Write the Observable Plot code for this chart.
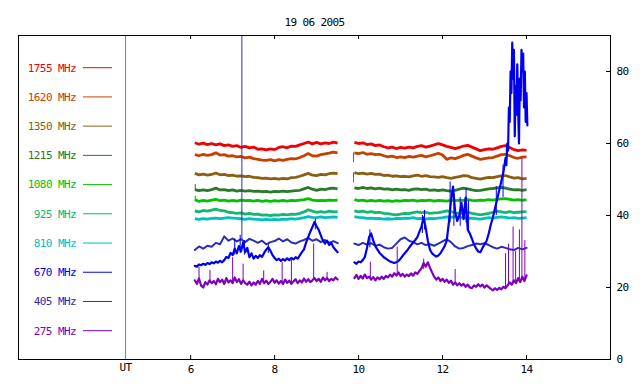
<!DOCTYPE html>
<html><head><meta charset="utf-8">
<script src="https://cdn.jsdelivr.net/npm/d3@7"></script>
<script src="https://cdn.jsdelivr.net/npm/@observablehq/plot@0.6"></script>
<style>body{margin:0;background:#fff}</style>
</head><body><div id="chart"></div>
<script>
const title = "19 06 2005";
const freqs = [1755, 1620, 1350, 1215, 1080, 925, 810, 670, 405, 275];
const colors = ["#f00000", "#c84000", "#8a6010", "#2a7a2a", "#00c400", "#10b870", "#00c0c0", "#0000f0", "#2c2cb8", "#8000c0"];
const xTicks = [6, 8, 10, 12, 14];
const yTicks = [0, 20, 40, 60, 80];
const utLabel = "UT";
const utHour = 4.45;

// coarse time grid (hours UT)
const tA = [6.1,6.2,6.3,6.4,6.5,6.6,6.7,6.8,6.9,
 7.0,7.1,7.2,7.3,7.4,7.5,7.6,7.7,7.8,7.9,
 8.0,8.1,8.2,8.3,8.4,8.5,8.6,8.7,8.8,8.9,
 9.0,9.1,9.2,9.3,9.4,9.5,
 9.9,
 10.0,10.1,10.2,10.3,10.4,10.5,10.6,10.7,10.8,10.9,
 11.0,11.1,11.2,11.3,11.4,11.5,11.6,11.7,11.8,11.9,
 12.0,12.1,12.2,12.3,12.4,12.5,12.6,12.7,12.8,12.9,
 13.0,13.1,13.2,13.3,13.4,13.5,13.6,13.7,13.8,13.9,
 14.0];

const v1755 = [60.2,59.8,60.1,59.7,60.0,59.6,59.9,59.4,59.6,
 59.2,59.4,58.9,59.2,58.8,59.0,58.4,58.5,58.2,58.5,
 58.3,58.9,59.1,58.8,59.3,59.2,59.6,60.0,60.4,59.9,
 60.3,59.9,60.2,60.0,60.4,60.1,
 60.3,
 60.0,60.2,59.7,59.9,59.4,59.6,59.1,58.8,59.0,58.6,
 58.9,58.7,59.0,58.8,59.2,59.4,59.0,59.3,59.6,60.0,
 59.6,59.2,58.9,58.6,58.9,59.3,59.5,59.0,58.5,58.0,
 58.3,58.5,58.4,58.8,59.2,59.4,58.9,58.3,58.0,58.2,
 58.1];
const v1620 = [56.9,56.6,57.0,56.7,56.9,57.4,56.8,56.9,56.5,
 56.6,56.3,56.4,56.0,56.2,55.8,55.6,55.4,55.3,55.5,
 55.2,55.5,55.3,55.6,55.8,55.7,56.1,56.6,57.2,56.6,
 56.5,56.9,57.1,57.3,57.6,57.4,
 57.4,
 57.2,57.5,57.0,57.2,56.9,57.0,56.6,56.3,56.5,56.1,
 56.3,56.1,56.4,56.2,56.5,56.7,56.3,56.6,56.9,57.3,
 56.8,55.6,56.0,55.8,56.2,56.7,57.0,56.5,56.0,55.6,
 55.8,56.0,56.1,56.5,56.9,57.0,56.6,56.1,55.9,56.2,
 56.3];
const v1350 = [51.7,51.3,51.5,51.2,51.4,51.8,51.3,51.4,51.1,
 51.2,50.9,51.0,50.8,50.9,50.6,50.5,50.3,50.4,50.2,
 50.3,50.1,50.3,50.2,50.5,50.6,50.9,51.3,51.7,51.2,
 51.1,51.4,51.3,51.6,51.8,51.6,
 51.9,
 51.6,51.8,51.5,51.7,51.4,51.5,51.1,51.2,50.9,51.0,
 50.8,50.9,50.7,51.0,51.2,50.9,51.1,50.8,50.7,50.6,
 50.8,50.5,50.3,50.6,50.8,51.1,51.0,50.5,50.3,50.1,
 50.4,50.6,50.5,50.8,51.0,51.1,50.7,50.4,50.5,50.2,
 50.3];
const v1215 = [47.2,46.9,47.1,46.9,47.2,47.6,47.1,47.2,46.9,
 47.1,46.8,47.0,46.8,46.9,46.7,46.8,46.6,46.7,46.5,
 46.7,46.6,46.8,46.6,46.8,46.9,47.0,47.4,47.8,47.3,
 47.0,47.3,47.2,47.5,47.6,47.4,
 47.7,
 47.5,47.8,47.5,47.7,47.4,47.6,47.3,47.4,47.1,47.3,
 47.1,47.2,47.0,47.3,47.4,47.2,47.3,47.0,47.1,46.9,
 47.1,46.9,46.8,47.0,47.3,47.6,47.4,47.1,46.9,47.0,
 47.2,47.4,47.5,47.7,47.8,47.6,47.3,47.1,47.2,47.0,
 47.2];
const v1080 = [44.4,43.9,44.2,44.0,44.3,44.5,44.1,44.3,44.0,
 44.2,44.0,44.3,44.1,44.2,44.0,44.2,43.9,44.1,43.9,
 44.1,44.0,44.2,44.0,44.2,44.1,44.3,44.4,44.7,44.3,
 44.1,44.2,44.1,44.3,44.2,44.3,
 44.4,
 44.1,44.3,44.0,44.2,44.0,44.2,44.0,44.1,43.9,44.1,
 44.0,44.2,44.1,44.3,44.0,44.2,44.1,44.3,44.0,44.2,
 44.1,44.0,44.2,44.1,44.3,44.2,44.4,44.2,44.1,44.3,
 44.2,44.4,44.3,44.5,44.6,44.7,44.5,44.3,44.4,44.2,
 44.4];
const v925 = [41.3,41.0,41.4,41.2,41.5,41.8,41.4,41.3,40.9,
 40.8,40.6,40.7,40.4,40.6,40.3,40.4,40.1,40.2,40.0,
 40.2,40.1,40.3,40.2,40.4,40.3,40.6,41.0,41.6,41.2,
 40.9,41.1,40.9,41.2,41.0,41.1,
 41.3,
 41.0,41.2,40.9,41.1,40.8,40.9,40.6,40.5,40.3,40.2,
 40.4,40.6,40.5,40.8,41.0,40.8,40.9,40.6,40.7,40.8,
 41.0,41.3,41.1,40.7,40.6,40.8,40.9,40.6,40.4,40.2,
 40.4,40.6,40.9,41.2,41.0,40.8,41.1,40.8,40.9,41.0,
 41.1];
const v810 = [39.1,38.9,39.1,39.0,39.2,39.3,39.1,39.3,39.4,
 39.3,39.2,39.1,38.9,39.1,39.0,38.9,38.8,38.9,38.8,
 38.9,38.8,39.0,38.9,39.1,39.0,39.2,39.4,39.7,39.5,
 39.4,39.6,39.4,39.5,39.6,39.5,
 39.7,
 39.5,39.4,39.2,39.3,39.1,39.2,39.0,39.1,39.0,39.2,
 39.1,39.3,39.2,39.4,39.1,39.2,39.0,39.2,39.1,39.3,
 39.4,39.6,39.5,39.7,39.5,39.4,39.2,39.3,39.1,39.0,
 39.2,39.4,39.3,39.5,39.6,39.5,39.3,39.4,39.2,39.3,
 39.4];
const v405 = [30.4,31.4,30.8,31.6,31.3,32.4,32.0,34.2,33.0,
 33.6,32.8,33.4,32.6,33.5,33.0,32.4,33.0,32.0,32.6,
 32.9,33.6,32.8,33.4,32.5,32.2,32.8,33.2,33.8,33.0,
 33.4,32.6,33.2,32.4,32.9,32.3,
 32.2,
 31.8,32.4,31.9,32.3,31.6,31.9,31.2,30.8,31.0,32.2,
 33.4,33.9,33.0,32.6,32.0,32.4,31.8,32.0,31.6,32.2,
 32.8,33.4,32.6,31.4,30.8,31.0,31.5,31.8,32.2,32.0,
 32.3,31.8,31.2,30.8,31.3,31.0,30.6,30.4,31.0,30.6,
 31.0];

// fine time grid (hours UT)
const tB = [6.10,6.15,6.20,6.25,6.30,6.35,6.40,6.45,6.50,6.55,6.60,6.65,6.70,6.75,6.80,6.85,6.90,6.95,
 7.00,7.05,7.10,7.15,7.20,7.25,7.30,7.35,7.40,7.45,7.50,7.55,7.60,7.65,7.70,7.75,7.80,7.85,7.90,7.95,
 8.00,8.05,8.10,8.15,8.20,8.25,8.30,8.35,8.40,8.45,8.50,8.55,8.60,8.65,8.70,8.75,8.80,8.85,8.90,8.95,
 9.00,9.05,9.10,9.15,9.20,9.25,9.30,9.35,9.40,9.45,9.50,
 9.90,9.95,
 10.00,10.05,10.10,10.15,10.20,10.25,10.30,10.35,10.40,10.45,10.50,10.55,10.60,10.65,10.70,10.75,10.80,10.85,10.90,10.95,
 11.00,11.05,11.10,11.15,11.20,11.25,11.30,11.35,11.40,11.45,11.50,11.55,11.60,11.65,11.70,11.75,11.80,11.85,11.90,11.95,
 12.00,12.05,12.10,12.15,12.20,12.25,12.30,12.35,12.40,12.45,12.50,12.55,12.60,12.65,12.70,12.75,12.80,12.85,12.90,12.95,
 13.00,13.05,13.10,13.15,13.20,13.25,13.30,13.35,13.40,13.45,13.50,13.55,13.60,13.65,13.70,13.75,13.80,13.85,13.90,13.95,
 14.00];

const v670 = [26.0,25.8,26.4,26.2,26.6,26.3,26.8,26.5,27.0,26.7,27.2,26.9,27.4,27.0,27.6,28.5,28.2,29.6,
 29.0,30.8,29.5,31.5,30.0,32.5,29.8,31.0,28.4,29.5,28.0,28.8,28.2,29.0,28.5,29.6,30.5,31.2,30.2,29.0,
 28.2,27.6,28.0,27.4,27.9,27.5,28.1,27.6,28.2,27.8,28.4,28.0,28.9,29.8,30.6,32.5,34.0,35.5,36.8,38.2,
 37.0,36.0,34.5,33.0,32.2,33.0,31.8,32.4,31.2,30.5,29.8,
 27.0,26.6,
 27.2,27.0,27.6,28.5,31.0,34.0,35.0,33.0,31.5,30.5,29.6,29.0,28.4,28.0,27.6,27.2,27.0,26.8,27.0,27.4,
 28.0,28.8,29.5,30.2,31.0,31.8,32.5,33.2,34.0,35.5,37.0,39.5,36.5,33.0,30.5,29.5,29.0,28.6,28.9,29.5,
 30.5,31.5,33.0,38.0,44.0,48.0,41.0,38.5,40.0,43.5,39.0,45.0,36.0,35.0,33.5,32.0,30.8,30.0,29.8,31.0,
 32.0,33.0,35.0,37.5,39.5,42.0,44.5,47.0,49.5,52.0,56.0];
const tBurst = [13.52,13.54,13.56,13.58,13.60,13.62,13.64,13.66,13.68,13.70,13.72,13.74,13.76,13.78,13.80,13.82,13.84,13.86,13.88,13.90,13.92,13.94,13.96,13.98,14.00,14.02];
const v670burst = [54,60,58,70,66,80,74,88,78,86,62,76,68,82,70,60,78,72,86,80,85,70,80,66,74,65];

const v275 = [22.0,21.0,22.5,20.5,20.0,21.5,20.8,22.0,21.2,21.8,20.9,22.4,21.5,22.2,21.0,22.6,21.4,22.0,
 21.2,22.8,21.5,22.3,21.0,22.0,21.2,20.8,21.6,20.6,21.4,20.8,21.8,21.0,22.4,21.2,21.9,21.0,21.6,22.4,
 21.3,22.0,21.1,21.8,21.0,22.2,21.3,21.9,21.0,21.7,22.3,21.2,22.0,21.4,22.5,21.6,22.3,21.5,22.0,22.6,
 21.8,22.4,21.6,22.8,22.0,22.6,21.8,22.4,22.0,22.8,22.2,
 22.6,23.5,
 22.4,23.2,22.5,23.6,22.6,23.0,22.2,22.9,22.0,22.8,22.3,23.0,22.4,23.2,22.8,23.6,23.0,24.0,23.3,24.2,
 23.2,23.8,23.0,23.6,23.2,23.9,23.3,24.2,23.8,24.6,25.4,26.8,25.8,27.0,25.5,24.2,23.0,22.2,22.8,21.8,
 22.4,21.6,22.2,21.3,21.9,20.8,21.4,20.6,21.2,20.5,21.0,20.2,20.8,20.0,19.8,20.6,20.2,20.9,20.3,20.8,
 20.0,20.6,20.1,19.6,19.2,19.8,19.3,19.9,19.5,20.2,19.8,20.6,21.4,20.8,22.0,21.2,22.6,21.5,23.0,21.8,
 23.4];

// isolated spikes: frequency, time, low, high
const spikeFreq = [405,
 275,275,275,275,275,275,275,275,275,275,275,275,275,275,275,275,275,275,275,275,
 670,670,670,670,670,670,670,670,670,670,670,670,670,670,670,
 1215,1080,1620,1350];
const spikeTime = [7.22,
 6.20,6.46,7.00,7.25,7.74,8.18,8.40,8.93,9.25,10.28,10.92,11.55,12.30,13.50,13.57,13.68,13.74,13.83,13.89,13.96,
 7.05,7.18,7.28,7.85,8.97,10.27,11.52,11.57,12.18,12.27,12.42,12.56,12.62,13.28,13.44,
 6.11,6.11,9.88,9.88];
const spikeLow  = [33.0,
 21.5,21.5,21.2,21.5,21.2,21.5,21.4,22.0,22.3,22.6,23.3,25.0,21.4,19.8,20.4,21.0,21.5,22.0,22.0,22.0,
 29.0,29.5,29.0,29.5,36.0,31.0,35.0,36.0,38.0,37.0,37.0,38.0,35.0,40.0,45.0,
 47.0,44.0,54.7,49.0];
const spikeHigh = [90.0,
 25.6,24.8,28.3,26.5,24.6,26.9,27.8,32.1,24.2,27.0,31.2,27.9,25.0,29.4,32.0,36.8,30.0,36.0,56.0,33.0,
 33.5,34.5,33.0,32.0,39.0,36.0,40.0,41.4,49.3,46.0,45.0,47.5,44.0,48.0,54.0,
 48.6,45.4,57.4,51.9];

function rows(ts, vs) {
  const out = [];
  const n = Math.min(ts.length, vs.length);
  for (let i = 0; i < n; i++) {
    if (i > 0 && ts[i] - ts[i - 1] > 0.2) out.push({t: (ts[i] + ts[i - 1]) / 2, v: NaN});
    out.push({t: ts[i], v: vs[i]});
  }
  return out;
}
const colorOf = f => colors[freqs.indexOf(f)];
const flat = [[1755, v1755], [1620, v1620], [1350, v1350], [1215, v1215], [1080, v1080], [925, v925], [810, v810]];
const spikes = spikeFreq.map((f, i) => ({f, t: spikeTime[i], lo: spikeLow[i], hi: spikeHigh[i]}));

const W = 640, H = 384, mL = 18, mR = 30, mT = 35, mB = 25;
const fw = W - mL - mR, fh = H - mT - mB;

const marks = [];
marks.push(Plot.ruleX([utHour], {x: d => d, stroke: "#808080", strokeWidth: 1}));
for (const [f, vs] of flat) {
  marks.push(Plot.line(rows(tA, vs), {x: "t", y: "v", stroke: colorOf(f), strokeWidth: 2.8, strokeLinejoin: "miter", strokeLinecap: "butt"}));
}
const spikeMark = f => Plot.ruleX(spikes.filter(s => s.f === f), {x: "t", y1: "lo", y2: "hi", stroke: colorOf(f), strokeWidth: 1});
for (const f of [1620, 1350, 1215, 1080]) marks.push(spikeMark(f));
marks.push(Plot.line(rows(tA, v405), {x: "t", y: "v", stroke: colorOf(405), strokeWidth: 2}));
marks.push(spikeMark(405));
marks.push(Plot.line(rows(tB, v670).concat(rows(tBurst, v670burst)), {x: "t", y: "v", stroke: colorOf(670), strokeWidth: 2.2}));
marks.push(spikeMark(670));
marks.push(Plot.line(rows(tB, v275), {x: "t", y: "v", stroke: colorOf(275), strokeWidth: 2.2}));
marks.push(spikeMark(275));
marks.push(Plot.frame({stroke: "#000", strokeWidth: 1}));
marks.push(Plot.ruleX(xTicks, {x: d => d, insetTop: fh - 4, stroke: "#000"}));
marks.push(Plot.ruleX(xTicks, {x: d => d, insetBottom: fh - 4, stroke: "#000"}));
marks.push(Plot.ruleY(yTicks, {y: d => d, insetLeft: fw - 4, stroke: "#000"}));
marks.push(Plot.text(xTicks, {x: d => d, frameAnchor: "bottom", dy: 13, text: d => String(d), fill: "#000"}));
marks.push(Plot.text([utHour], {x: d => d, frameAnchor: "bottom", dy: 11, text: () => utLabel, fill: "#000"}));
marks.push(Plot.text(yTicks, {y: d => d, frameAnchor: "right", dx: 6, textAnchor: "start", text: d => String(d), fill: "#000"}));
marks.push(Plot.text([title], {frameAnchor: "top", dy: -17.5, text: d => d, fill: "#000"}));

const plot = Plot.plot({
  width: W, height: H,
  marginLeft: mL, marginRight: mR, marginTop: mT, marginBottom: mB,
  x: {domain: [1.9, 16], axis: null},
  y: {domain: [0, 90], axis: null},
  style: "font-family:'DejaVu Sans Mono',monospace;font-size:11px;letter-spacing:-0.6px;background:#fff;overflow:visible",
  marks
});

const svg = d3.select(plot);
const g = svg.append("g");
freqs.forEach((f, i) => {
  const y = 67.7 + i * 29.22;
  g.append("text").attr("x", 76).attr("y", y).attr("dy", "0.35em").attr("text-anchor", "end")
    .attr("fill", colors[i]).text(f + " MHz");
  g.append("line").attr("x1", 83).attr("x2", 112).attr("y1", y).attr("y2", y)
    .attr("stroke", colors[i]).attr("stroke-width", 1);
});
document.getElementById("chart").appendChild(plot);
</script>
</body></html>
